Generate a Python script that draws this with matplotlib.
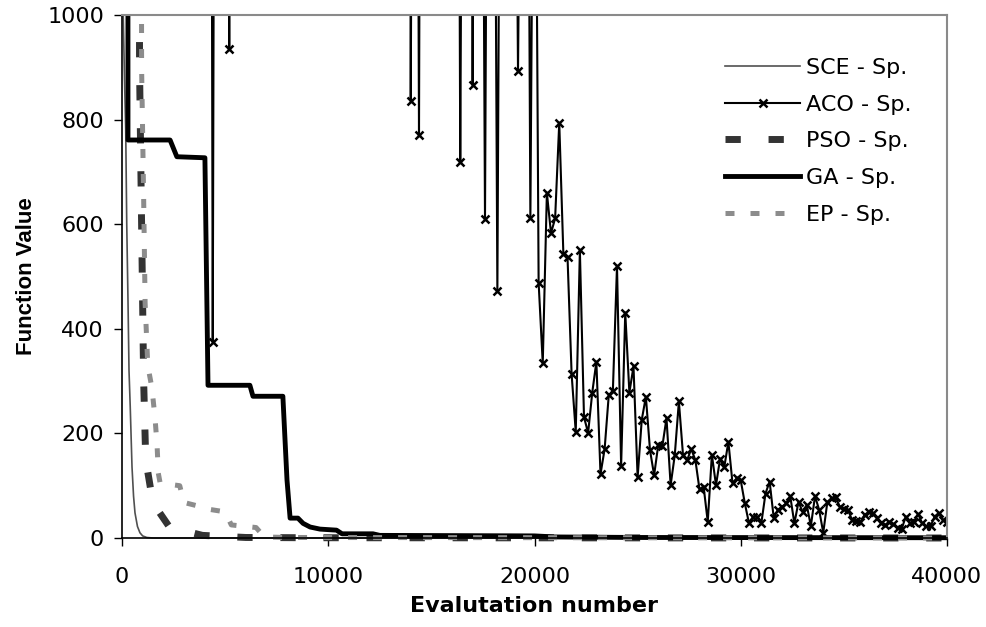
import numpy as np
import matplotlib
matplotlib.use("Agg")
import matplotlib.pyplot as plt
from matplotlib.patches import Rectangle

plt.rcParams['font.family'] = ['DejaVu Sans']

# ---------------- data ----------------
sce_x = [0, 60, 120, 180, 230, 290, 340, 400, 485, 560, 630, 750, 870, 1000, 1200, 1500, 40000]
sce_y = [1400, 1000, 880, 780, 600, 455, 320, 250, 136, 80, 48, 22, 10, 4, 1, 0, 0]

aco_early_x = [4200, 4400, 4600, 5000, 5200, 5400, 13600]
aco_early_y = [4000, 375, 3500, 3000, 935, 3800, 4000]
aco_x_start = 13800
aco_step = 200
aco_y = [4000, 836, 3000, 770, 3500, 4000, 3800, 3500, 4200, 3000, 3300, 2800,
         3000, 718, 2500, 2600, 866, 2400, 2200, 610, 2300, 2000, 472, 2100,
         2500, 1900, 2000, 892, 1800, 2200, 611, 1800, 488, 334, 660, 583,
         611, 794, 543, 538, 313, 203, 550, 231, 201, 278, 337, 122,
         170, 273, 282, 520, 138, 431, 278, 328, 116, 226, 270, 168,
         120, 178, 176, 229, 101, 158, 261, 159, 149, 170, 149, 93,
         98, 31, 159, 101, 152, 135, 184, 105, 114, 110, 66, 28,
         41, 41, 29, 85, 108, 38, 54, 60, 66, 80, 28, 69,
         50, 63, 23, 80, 54, 10, 69, 76, 79, 60, 55, 54,
         34, 33, 31, 44, 50, 47, 38, 28, 25, 31, 27, 20,
         17, 41, 28, 31, 46, 28, 22, 22, 41, 48, 34, 31]

pso_x = [100, 850, 950, 1050, 1150, 1500, 2300, 3900, 6000, 9000, 40000]
pso_y = [30000, 900, 600, 300, 150, 67, 21, 5, 1, 0.5, 0]

ga_x = [0, 290, 2330, 2660, 4020, 4170, 6200, 6350, 7800, 8000, 8150, 8530,
        8780, 9120, 9600, 10400, 10670, 12170, 12500, 20000, 21000, 25000, 40000]
ga_y = [40000, 761, 761, 729, 727, 292, 292, 271, 271, 111, 38, 38,
        28, 21, 17, 15, 8, 8, 5, 4, 2, 1, 0.5]

ep_x = [100, 950, 1050, 1120, 1250, 1450, 1600, 1700, 1760, 1850, 2800, 3000,
        3600, 4200, 5000, 5300, 6500, 6900, 8000, 40000]
ep_y = [30000, 900, 650, 450, 330, 287, 230, 178, 124, 105, 100, 68,
        62, 55, 50, 25, 20, 2, 1, 0]

x_ticks = [0, 10000, 20000, 30000, 40000]
y_ticks = [0, 200, 400, 600, 800, 1000]

# ---------------- figure ----------------
fig = plt.figure(figsize=(9.87, 6.27), dpi=100)
ax = fig.add_axes([122/987, 1-538/627, (947-122)/987, (538-15)/627])

aco_x = [aco_x_start + aco_step*i for i in range(len(aco_y))]
acox_all = aco_early_x + aco_x
acoy_all = aco_early_y + aco_y

lines = []
lines += ax.plot(sce_x, sce_y, color='#505050', lw=1.2, label='SCE - Sp.')
lines += ax.plot(acox_all, acoy_all, color='black', lw=1.5, marker='x',
                 markersize=6, mew=1.8, label='ACO - Sp.')
lines += ax.plot(pso_x, pso_y, color='#333333', lw=5, linestyle=(0, (2.2, 4)),
                 solid_capstyle='butt', dash_capstyle='butt', label='PSO - Sp.')
lines += ax.plot(ga_x, ga_y, color='black', lw=3.5, label='GA - Sp.')
lines += ax.plot(ep_x, ep_y, color='#8c8c8c', lw=3.6, linestyle=(0, (1.8, 3.2)),
                 dash_capstyle='butt', label='EP - Sp.')

clip = Rectangle((0, -0.03), 1, 1.03, transform=ax.transAxes, facecolor='none', edgecolor='none')
ax.add_patch(clip)
for ln in lines:
    ln.set_clip_path(clip)

ax.set_xlim(0, 40000)
ax.set_ylim(0, 1000)
ax.set_xticks(x_ticks)
ax.set_yticks(y_ticks)
ax.tick_params(axis='both', labelsize=16, direction='out', length=6, width=1, colors='black')
ax.tick_params(axis='x', pad=15)
ax.tick_params(axis='y', pad=7)

for s in ['left', 'bottom']:
    ax.spines[s].set_color('black')
    ax.spines[s].set_linewidth(1.2)
for s in ['top', 'right']:
    ax.spines[s].set_color('#8a8a8a')
    ax.spines[s].set_linewidth(1.5)

ax.set_xlabel('Evalutation number', fontsize=16, fontweight='bold', labelpad=6)
ax.set_ylabel('Function Value', fontsize=16, fontweight='bold', labelpad=7,
              family=['Liberation Sans', 'DejaVu Sans'])

leg = ax.legend(loc='upper left', bbox_to_anchor=(0.731, 0.918), frameon=False,
                fontsize=16, handlelength=3.38, handletextpad=0.27, labelspacing=0.75,
                borderpad=0, borderaxespad=0)

fig.savefig('out.png', dpi=100)
